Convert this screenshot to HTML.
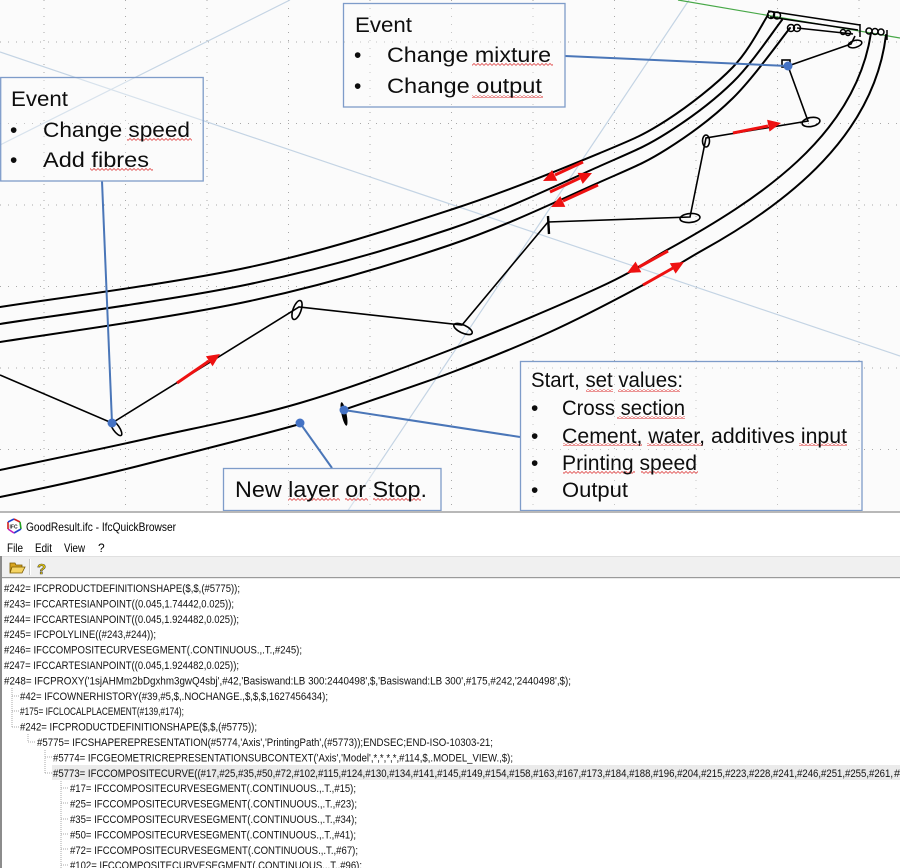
<!DOCTYPE html>
<html><head><meta charset="utf-8"><style>
html,body{margin:0;padding:0;background:#fff;}
svg{display:block;}
text{font-family:"Liberation Sans",Arial,sans-serif;}
</style></head><body>
<svg width="900" height="868" viewBox="0 0 900 868" xmlns="http://www.w3.org/2000/svg">
<defs>
<pattern id="sq" patternUnits="userSpaceOnUse" width="4" height="3"><polyline points="0,2.5 2,0.5 4,2.5" fill="none" stroke="#e04848" stroke-width="0.8"/></pattern>
</defs>
<!-- diagram background -->
<rect x="0" y="0" width="900" height="512" fill="#fbfbfb"/>
<!-- grid -->
<g stroke="#a8a8a8" stroke-width="1" stroke-dasharray="1 7" fill="none">
<line x1="44" y1="0" x2="44" y2="511"/>
<line x1="125.5" y1="0" x2="125.5" y2="511"/>
<line x1="207" y1="0" x2="207" y2="511"/>
<line x1="288.5" y1="0" x2="288.5" y2="511"/>
<line x1="370" y1="0" x2="370" y2="511"/>
<line x1="451.5" y1="0" x2="451.5" y2="511"/>
<line x1="533" y1="0" x2="533" y2="511"/>
<line x1="614.5" y1="0" x2="614.5" y2="511"/>
<line x1="696" y1="0" x2="696" y2="511"/>
<line x1="777.5" y1="0" x2="777.5" y2="511"/>
<line x1="859" y1="0" x2="859" y2="511"/>
<line x1="0" y1="42" x2="900" y2="42"/>
<line x1="0" y1="123.5" x2="900" y2="123.5"/>
<line x1="0" y1="205" x2="900" y2="205"/>
<line x1="0" y1="286.5" x2="900" y2="286.5"/>
<line x1="0" y1="368" x2="900" y2="368"/>
<line x1="0" y1="449.5" x2="900" y2="449.5"/>
</g>
<!-- construction lines -->
<g stroke="#c4d4e4" stroke-width="1.2" fill="none">
<line x1="0" y1="52" x2="900" y2="356"/>
<line x1="0" y1="145" x2="290" y2="0"/>
<line x1="689" y1="0" x2="347" y2="512"/>
</g>
<line x1="678" y1="0" x2="900" y2="38" stroke="#48a848" stroke-width="1.2"/>

<!-- wall curves -->
<g stroke="#000" stroke-width="2" fill="none" stroke-linecap="round">
<path d="M0,307 C41.7,300.3 175,283.2 250,267 C325,250.8 391.7,229 450,210 C508.3,191 563.8,168 600,153 C636.2,138 644.8,134.3 667,120 C689.2,105.7 716.2,84.5 733,67 C749.8,49.5 762.2,23.7 768,15"/>
<path d="M0,324 C41.7,317.3 175,299.8 250,284 C325,268.2 391.7,248.7 450,229 C508.3,209.3 563.8,182 600,166 C636.2,150 644.8,147 667,133 C689.2,119 713.8,100.8 733,82 C752.2,63.2 773.8,30.3 782,20"/>
<path d="M0,342 C41.7,335.2 175,317.2 250,301 C325,284.8 391.7,264.8 450,245 C508.3,225.2 563.8,198 600,182 C636.2,166 644.8,163 667,149 C689.2,135 712.5,118.2 733,98 C753.5,77.8 780.5,39.7 790,28"/>
<path d="M0,470 C25,464.7 100,449.2 150,438 C200,426.8 250,417.7 300,403 C350,388.3 400,369.3 450,350 C500,330.7 563.8,303.7 600,287 C636.2,270.3 644.7,262.4 667,250 C758.9,199.1 855.2,136.4 871,33"/>
<path d="M0,497 C50,487 100,476 150,463 C200,450 250,438 300,424"/>
<path d="M343,410 C360.8,403.8 415.5,386 450,373 C484.5,360 517.8,346.7 550,332 C582.2,317.3 617.5,298.7 643,285 C668.5,271.3 685.5,259.7 703,250 C790.5,201.5 874,134 886,35"/>
</g>
<!-- top cluster -->
<g stroke="#000" stroke-width="1.5" fill="none">
<line x1="768" y1="11" x2="860" y2="25"/>
<line x1="770" y1="17" x2="858" y2="30"/>
<line x1="797" y1="28" x2="853" y2="34"/>
<circle cx="771" cy="15" r="3.5"/><circle cx="777" cy="15.5" r="3.5"/>
<circle cx="791" cy="28" r="3.5"/><circle cx="797" cy="28" r="3.5"/>
<circle cx="843" cy="32" r="2.5"/><circle cx="848" cy="33" r="2.5"/>
<circle cx="869" cy="31" r="3"/><circle cx="875" cy="31.5" r="3"/><circle cx="881" cy="32" r="3"/>
<line x1="860" y1="24" x2="860" y2="37"/>
<line x1="887" y1="30" x2="887" y2="40"/>
<ellipse cx="855" cy="44" rx="7" ry="3.5" transform="rotate(-15 855 44)"/>
</g>
<!-- printing path zigzag -->
<g stroke="#000" stroke-width="1.6" fill="none">
<polyline points="0,375 112,423 299,307 462,325 548,222 690,217 706,138 808,121 788,66 851,44 855,36"/>
<ellipse cx="116" cy="428" rx="3.2" ry="9" transform="rotate(-35 116 428)"/>
<ellipse cx="297" cy="310" rx="4" ry="10" transform="rotate(20 297 310)"/>
<ellipse cx="463" cy="329" rx="10" ry="4" transform="rotate(25 463 329)"/>
<ellipse cx="690" cy="218" rx="10" ry="4.5" transform="rotate(-5 690 218)"/>
<ellipse cx="706" cy="141" rx="3.5" ry="6"/>
<ellipse cx="811" cy="122" rx="9" ry="4.5" transform="rotate(-10 811 122)"/>
<rect x="782" y="60" width="8" height="7"/>
</g>
<line x1="548" y1="216" x2="549" y2="234" stroke="#000" stroke-width="2.4"/>
<ellipse cx="344" cy="414" rx="2.5" ry="12" fill="#000" transform="rotate(-12 344 414)"/>

<!-- red arrows -->
<g stroke="#ee1111" stroke-width="3" fill="none">
<line x1="583" y1="162" x2="555" y2="175"/>
<line x1="550" y1="192" x2="580" y2="178"/>
<line x1="598" y1="185" x2="563" y2="201"/>
<line x1="177" y1="383" x2="209" y2="361"/>
<line x1="733" y1="133" x2="768" y2="126"/>
<line x1="668" y1="251" x2="639" y2="267"/>
<line x1="643" y1="285" x2="673" y2="268"/>
</g>
<g fill="#ee1111">
<polygon points="543,181 552.1,170 557.3,180.8"/>
<polygon points="592,173 582.7,183.9 577.7,172.9"/>
<polygon points="551,207 560.3,196.1 565.3,206.9"/>
<polygon points="220,354 212.6,366.3 205.9,356.3"/>
<polygon points="781,123 769.5,131.6 767.1,119.8"/>
<polygon points="627,273 635.6,261.6 641.3,272.2"/>
<polygon points="684,262 675.6,273.6 669.8,263.2"/>
</g>

<!-- connectors -->
<g stroke="#4a76b8" stroke-width="2">
<line x1="102" y1="181" x2="112" y2="423"/>
<line x1="565" y1="56" x2="788" y2="66"/>
<line x1="520" y1="437" x2="344" y2="410"/>
<line x1="300" y1="423" x2="332" y2="468"/>
</g>
<g fill="#4472c4">
<circle cx="112" cy="423" r="4.5"/>
<circle cx="788" cy="66" r="4.5"/>
<circle cx="344" cy="410" r="4.5"/>
<circle cx="300" cy="423" r="4.5"/>
</g>

<!-- boxes -->
<g fill="#fdfdfd" fill-opacity="0.35" stroke="#7e9cc9" stroke-width="1.3">
<rect x="0.7" y="77.5" width="202.5" height="103.5"/>
<rect x="343.5" y="3.5" width="221.5" height="103.5"/>
<rect x="520.5" y="361.5" width="341.5" height="149"/>
<rect x="223.5" y="468.5" width="217.5" height="42"/>
</g>
<!-- squiggles -->
<g fill="url(#sq)">
<rect x="127" y="138" width="65" height="3"/>
<rect x="90" y="168" width="63" height="3"/>
<rect x="472" y="63" width="81" height="3"/>
<rect x="472" y="95" width="71" height="3"/>
<rect x="586" y="389" width="27" height="3"/>
<rect x="618" y="389" width="62" height="3"/>
<rect x="617" y="416" width="68" height="3"/>
<rect x="563" y="443" width="79" height="3"/>
<rect x="647" y="443" width="56" height="3"/>
<rect x="799" y="443" width="48" height="3"/>
<rect x="563" y="471" width="72" height="3"/>
<rect x="641" y="471" width="57" height="3"/>
<rect x="288" y="498" width="52" height="3"/>
<rect x="345" y="498" width="23" height="3"/>
<rect x="373" y="498" width="48" height="3"/>
</g>
<!-- box texts -->
<g fill="#0d0d0d" font-size="21">
<text x="11" y="106" textLength="57" lengthAdjust="spacingAndGlyphs">Event</text>
<text x="10" y="137">•</text>
<text x="43" y="137" textLength="147" lengthAdjust="spacingAndGlyphs">Change speed</text>
<text x="10" y="167">•</text>
<text x="43" y="167" textLength="106" lengthAdjust="spacingAndGlyphs">Add fibres</text>

<text x="355" y="32" textLength="57" lengthAdjust="spacingAndGlyphs">Event</text>
<text x="354" y="62">•</text>
<text x="387" y="62" textLength="164" lengthAdjust="spacingAndGlyphs">Change mixture</text>
<text x="354" y="93">•</text>
<text x="387" y="93" textLength="155" lengthAdjust="spacingAndGlyphs">Change output</text>

<text x="531" y="387" textLength="152" lengthAdjust="spacingAndGlyphs">Start, set values:</text>
<text x="531" y="415">•</text>
<text x="562" y="415" textLength="123" lengthAdjust="spacingAndGlyphs">Cross section</text>
<text x="531" y="443">•</text>
<text x="562" y="443" textLength="285" lengthAdjust="spacingAndGlyphs">Cement, water, additives input</text>
<text x="531" y="470">•</text>
<text x="562" y="470" textLength="135" lengthAdjust="spacingAndGlyphs">Printing speed</text>
<text x="531" y="497">•</text>
<text x="562" y="497" textLength="66" lengthAdjust="spacingAndGlyphs">Output</text>

<text x="235" y="497" font-size="22" textLength="192" lengthAdjust="spacingAndGlyphs">New layer or Stop.</text>
</g>

<!-- window -->
<rect x="0" y="512" width="900" height="356" fill="#ffffff"/>
<rect x="0" y="511" width="900" height="2" fill="#b8b8b8"/>
<!-- title icon -->
<g fill="none" stroke-width="1.6">
<path d="M14,519 L20,522" stroke="#d02020"/>
<path d="M20,522 L21,529" stroke="#20a020"/>
<path d="M21,529 L14,533" stroke="#2040d0"/>
<path d="M14,533 L8,529" stroke="#c020c0"/>
<path d="M8,529 L8,522" stroke="#d02020"/>
<path d="M8,522 L14,519" stroke="#2040d0"/>
</g>
<text x="9.5" y="528.5" font-size="5" font-weight="bold" fill="#222">IFC</text>
<text x="26" y="531" font-size="12" fill="#000" textLength="150" lengthAdjust="spacingAndGlyphs">GoodResult.ifc - IfcQuickBrowser</text>
<g font-size="12" fill="#000">
<text x="7" y="552" textLength="16" lengthAdjust="spacingAndGlyphs">File</text>
<text x="35" y="552" textLength="17" lengthAdjust="spacingAndGlyphs">Edit</text>
<text x="64" y="552" textLength="21" lengthAdjust="spacingAndGlyphs">View</text>
<text x="98" y="552">?</text>
</g>
<rect x="0" y="556" width="900" height="1" fill="#e0e0e0"/>
<rect x="0" y="557" width="900" height="20" fill="#f0f0f0"/>
<rect x="0" y="577" width="900" height="1.2" fill="#9a9a9a"/>
<rect x="0" y="556" width="2" height="312" fill="#8c8c8c"/>
<!-- toolbar icons -->
<path d="M10,563 L15,563 L16,565 L22,565 L22,572 L10,572 Z" fill="#d9a520" stroke="#7a5a00" stroke-width="0.8"/>
<path d="M12,567 L25,567 L22,573 L10,573 Z" fill="#f5d464" stroke="#7a5a00" stroke-width="0.8"/>
<line x1="29.5" y1="559" x2="29.5" y2="575" stroke="#c8c8c8" stroke-width="1"/>
<line x1="30.5" y1="559" x2="30.5" y2="575" stroke="#ffffff" stroke-width="1"/>
<text x="37" y="574" font-size="15" font-weight="bold" fill="#f0d000" stroke="#444" stroke-width="0.6">?</text>

<!-- tree lines -->
<g stroke="#a8a8a8" stroke-width="1" stroke-dasharray="1 1" fill="none">
<line x1="12" y1="688" x2="12" y2="727"/>
<line x1="12" y1="696" x2="19" y2="696"/>
<line x1="12" y1="711" x2="19" y2="711"/>
<line x1="12" y1="727" x2="19" y2="727"/>
<line x1="28" y1="734" x2="28" y2="742"/>
<line x1="28" y1="742" x2="35" y2="742"/>
<line x1="45" y1="750" x2="45" y2="773"/>
<line x1="45" y1="757" x2="52" y2="757"/>
<line x1="45" y1="773" x2="52" y2="773"/>
<line x1="61" y1="781" x2="61" y2="868"/>
<line x1="61" y1="788" x2="68" y2="788"/>
<line x1="61" y1="803" x2="68" y2="803"/>
<line x1="61" y1="819" x2="68" y2="819"/>
<line x1="61" y1="834" x2="68" y2="834"/>
<line x1="61" y1="849" x2="68" y2="849"/>
<line x1="61" y1="865" x2="68" y2="865"/>
</g>
<rect x="52" y="765" width="848" height="15" fill="#ebebeb"/>
<!-- list text -->
<g font-size="11" fill="#111">
<text x="4" y="592" textLength="236" lengthAdjust="spacingAndGlyphs">#242= IFCPRODUCTDEFINITIONSHAPE($,$,(#5775));</text>
<text x="4" y="607.4" textLength="230" lengthAdjust="spacingAndGlyphs">#243= IFCCARTESIANPOINT((0.045,1.74442,0.025));</text>
<text x="4" y="622.8" textLength="235" lengthAdjust="spacingAndGlyphs">#244= IFCCARTESIANPOINT((0.045,1.924482,0.025));</text>
<text x="4" y="638.2" textLength="152" lengthAdjust="spacingAndGlyphs">#245= IFCPOLYLINE((#243,#244));</text>
<text x="4" y="653.6" textLength="298" lengthAdjust="spacingAndGlyphs">#246= IFCCOMPOSITECURVESEGMENT(.CONTINUOUS.,.T.,#245);</text>
<text x="4" y="669" textLength="235" lengthAdjust="spacingAndGlyphs">#247= IFCCARTESIANPOINT((0.045,1.924482,0.025));</text>
<text x="4" y="684.4" textLength="567" lengthAdjust="spacingAndGlyphs">#248= IFCPROXY('1sjAHMm2bDgxhm3gwQ4sbj',#42,'Basiswand:LB 300:2440498',$,'Basiswand:LB 300',#175,#242,'2440498',$);</text>
<text x="20" y="699.8" textLength="308" lengthAdjust="spacingAndGlyphs">#42= IFCOWNERHISTORY(#39,#5,$,.NOCHANGE.,$,$,$,1627456434);</text>
<text transform="translate(20,715.2) scale(0.755,1)">#175= IFCLOCALPLACEMENT(#139,#174);</text>
<text x="20" y="730.6" textLength="237" lengthAdjust="spacingAndGlyphs">#242= IFCPRODUCTDEFINITIONSHAPE($,$,(#5775));</text>
<text x="37" y="746" textLength="456" lengthAdjust="spacingAndGlyphs">#5775= IFCSHAPEREPRESENTATION(#5774,'Axis','PrintingPath',(#5773));ENDSEC;END-ISO-10303-21;</text>
<text x="53" y="761.4" textLength="460" lengthAdjust="spacingAndGlyphs">#5774= IFCGEOMETRICREPRESENTATIONSUBCONTEXT('Axis','Model',*,*,*,*,#114,$,.MODEL_VIEW.,$);</text>
<text x="53" y="776.8" textLength="840" lengthAdjust="spacingAndGlyphs">#5773= IFCCOMPOSITECURVE((#17,#25,#35,#50,#72,#102,#115,#124,#130,#134,#141,#145,#149,#154,#158,#163,#167,#173,#184,#188,#196,#204,#215,#223,#228,#241,#246,#251,#255,#261,</text>
<text x="894" y="776.8">#</text>
<text x="70" y="792.2" textLength="286" lengthAdjust="spacingAndGlyphs">#17= IFCCOMPOSITECURVESEGMENT(.CONTINUOUS.,.T.,#15);</text>
<text x="70" y="807.6" textLength="287" lengthAdjust="spacingAndGlyphs">#25= IFCCOMPOSITECURVESEGMENT(.CONTINUOUS.,.T.,#23);</text>
<text x="70" y="823" textLength="287" lengthAdjust="spacingAndGlyphs">#35= IFCCOMPOSITECURVESEGMENT(.CONTINUOUS.,.T.,#34);</text>
<text x="70" y="838.4" textLength="286" lengthAdjust="spacingAndGlyphs">#50= IFCCOMPOSITECURVESEGMENT(.CONTINUOUS.,.T.,#41);</text>
<text x="70" y="853.8" textLength="288" lengthAdjust="spacingAndGlyphs">#72= IFCCOMPOSITECURVESEGMENT(.CONTINUOUS.,.T.,#67);</text>
<text x="70" y="869.2" textLength="292" lengthAdjust="spacingAndGlyphs">#102= IFCCOMPOSITECURVESEGMENT(.CONTINUOUS.,.T.,#96);</text>
</g>
</svg>
</body></html>
